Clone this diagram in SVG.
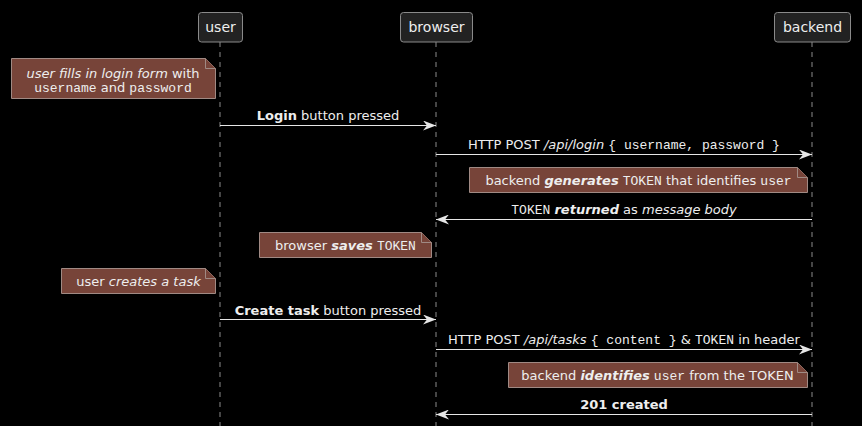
<svg xmlns="http://www.w3.org/2000/svg" width="862" height="426" viewBox="0 0 862 426">
<style>
text{font-family:"DejaVu Sans",sans-serif;font-size:13px;fill:#eeeeee}
.p{font-size:14px;text-anchor:middle}
.m{text-anchor:middle}
.mono{font-family:"Liberation Mono","DejaVu Sans Mono",monospace}
.i{font-style:italic}
.b{font-weight:bold}
.bi{font-weight:bold;font-style:italic}
.box{fill:#222222;stroke:#8a8a8a;stroke-width:1}
.life{stroke:#8a8a8a;stroke-width:1;stroke-dasharray:5,5;fill:none}
.note{fill:#774439;stroke:#a08a84;stroke-width:1}
.msg{stroke:#e6e6e6;stroke-width:1;fill:none}
.head{fill:#e6e6e6}
</style>
<defs>
<marker id="ah" viewBox="0 0 13 10" refX="13" refY="5" markerWidth="13" markerHeight="10" markerUnits="userSpaceOnUse" orient="auto">
<path d="M13,5 L0,0 L4,5 L0,10 Z" class="head"/>
</marker>
</defs>
<rect width="862" height="426" fill="#000000"/>
<g id="lifelines">
<line class="life" x1="220" y1="42" x2="220" y2="426"/>
<line class="life" x1="436" y1="42" x2="436" y2="426"/>
<line class="life" x1="812" y1="42" x2="812" y2="426"/>
</g>
<g id="user">
<rect class="box" x="198.5" y="12.5" width="44" height="29.5" rx="3"/>
<text class="p" x="220.5" y="32">user</text>
</g>
<g id="browser">
<rect class="box" x="400.5" y="12.5" width="72" height="29.5" rx="3"/>
<text class="p" x="436.5" y="32">browser</text>
</g>
<g id="backend">
<rect class="box" x="774.5" y="12.5" width="76" height="29.5" rx="3"/>
<text class="p" x="812.5" y="32">backend</text>
</g>
<g id="note1">
<path class="note" d="M11.5,58.5 H205.5 L215.5,68.5 V98.5 H11.5 Z"/>
<path class="note" d="M205.5,58.5 V68.5 H215.5" fill="none"/>
<text class="m" x="113" y="78"><tspan class="i">user fills in login form</tspan> with</text>
<text class="m" x="113" y="92"><tspan class="mono">username</tspan> and <tspan class="mono">password</tspan></text>
</g>
<g id="note2">
<path class="note" d="M469.5,167.5 H797.5 L807.5,177.5 V192.5 H469.5 Z"/>
<path class="note" d="M797.5,167.5 V177.5 H807.5" fill="none"/>
<text class="m" x="638.5" y="185">backend <tspan class="bi">generates</tspan> <tspan class="mono">TOKEN</tspan> that identifies <tspan class="mono">user</tspan></text>
</g>
<g id="note3">
<path class="note" d="M259.5,232.5 H421.5 L431.5,242.5 V257.5 H259.5 Z"/>
<path class="note" d="M421.5,232.5 V242.5 H431.5" fill="none"/>
<text class="m" x="345.5" y="250">browser <tspan class="bi">saves</tspan> <tspan class="mono">TOKEN</tspan></text>
</g>
<g id="note4">
<path class="note" d="M61.5,268.5 H205.5 L215.5,278.5 V293.5 H61.5 Z"/>
<path class="note" d="M205.5,268.5 V278.5 H215.5" fill="none"/>
<text class="m" x="138.5" y="286">user <tspan class="i">creates a task</tspan></text>
</g>
<g id="note5">
<path class="note" d="M508.5,362.5 H797.5 L807.5,372.5 V387.5 H508.5 Z"/>
<path class="note" d="M797.5,362.5 V372.5 H807.5" fill="none"/>
<text class="m" x="657.5" y="380">backend <tspan class="bi">identifies</tspan> <tspan class="mono">user</tspan> from the TOKEN</text>
</g>
<g id="connectors">
<line class="msg" x1="220" y1="125.5" x2="436" y2="125.5" marker-end="url(#ah)"/>
<text class="m" x="328" y="120"><tspan class="b">Login</tspan> button pressed</text>
<line class="msg" x1="436" y1="154.5" x2="812" y2="154.5" marker-end="url(#ah)"/>
<text class="m" x="624" y="149">HTTP POST <tspan class="i">/api/login</tspan> <tspan class="mono">{ username, password }</tspan></text>
<line class="msg" x1="812" y1="219.5" x2="436" y2="219.5" marker-end="url(#ah)"/>
<text class="m" x="624" y="214"><tspan class="mono">TOKEN</tspan> <tspan class="bi">returned</tspan> as <tspan class="i">message body</tspan></text>
<line class="msg" x1="220" y1="319.5" x2="436" y2="319.5" marker-end="url(#ah)"/>
<text class="m" x="328" y="315"><tspan class="b">Create task</tspan> button pressed</text>
<line class="msg" x1="436" y1="349.5" x2="812" y2="349.5" marker-end="url(#ah)"/>
<text class="m" x="624" y="344">HTTP POST <tspan class="i">/api/tasks</tspan> <tspan class="mono">{ content }</tspan> &amp; <tspan class="mono">TOKEN</tspan> in header</text>
<line class="msg" x1="812" y1="414.5" x2="436" y2="414.5" marker-end="url(#ah)"/>
<text class="m" x="624" y="409"><tspan class="b">201 created</tspan></text>
</g>
</svg>
